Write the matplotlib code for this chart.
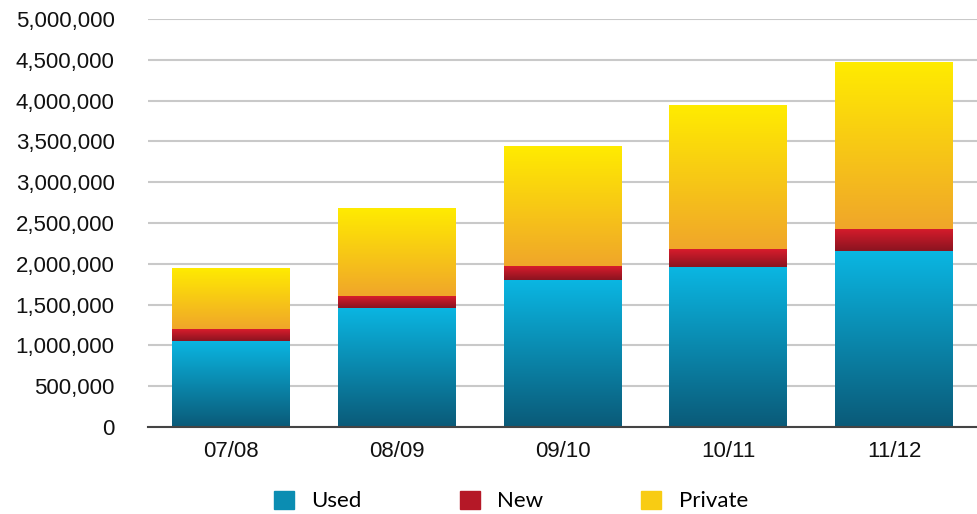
import numpy as np
import matplotlib
matplotlib.use('Agg')
import matplotlib.pyplot as plt
from matplotlib.colors import LinearSegmentedColormap
from matplotlib.patches import Patch
from matplotlib.ticker import FuncFormatter

years = ['07/08', '08/09', '09/10', '10/11', '11/12']
used = [1055000, 1460000, 1800000, 1960000, 2155000]
new = [145000, 145000, 170000, 220000, 270000]
private = [750000, 1080000, 1475000, 1765000, 2050000]

series = [
    ('Used', used, '#0bb6e2', '#0a5a78'),
    ('New', new, '#d81c2c', '#8a1420'),
    ('Private', private, '#ffec00', '#f0a62a'),
]

fig = plt.figure(figsize=(9.77, 5.14), dpi=100)
ax = fig.add_axes([148 / 977, 1 - 427 / 514, 829 / 977, 408 / 514])

x = np.arange(len(years))
bottom = np.zeros(len(years))
grad = np.linspace(0, 1, 256).reshape(-1, 1)
handles = []
for name, vals, c_top, c_bot in series:
    cmap = LinearSegmentedColormap.from_list(name, [c_bot, c_top])
    bars = ax.bar(x, vals, 0.71, bottom=bottom, color='none', edgecolor='none', zorder=2)
    for b in bars:
        x0, y0 = b.get_x(), b.get_y()
        w, h = b.get_width(), b.get_height()
        im = ax.imshow(grad, cmap=cmap, aspect='auto', origin='lower',
                       extent=[x0, x0 + w, y0, y0 + h], zorder=2)
        im.set_clip_path(b)
    bottom += np.array(vals)
    handles.append(Patch(color=cmap(0.55), label=name))

ax.set_xlim(-0.5, 4.5)
ax.set_ylim(0, 5000000)
ax.set_yticks(np.arange(0, 5000001, 500000))
ax.yaxis.set_major_formatter(FuncFormatter(lambda v, p: f'{int(v):,}'))
ax.set_xticks(x)
ax.set_xticklabels(years)
ax.grid(axis='y', color='#c9c9c9', lw=1.5, zorder=0)
for s in ['top', 'right', 'left']:
    ax.spines[s].set_visible(False)
ax.spines['bottom'].set_color('#444444')
ax.spines['bottom'].set_linewidth(1.5)
ax.spines['bottom'].set_zorder(3)
ax.tick_params(axis='both', length=0, labelsize=16, labelcolor='#111111')
ax.tick_params(axis='y', pad=24)
ax.tick_params(axis='x', pad=10)
for t in ax.get_xticklabels() + ax.get_yticklabels():
    t.set_family('Liberation Sans')

fig.legend(handles=handles, loc='center', bbox_to_anchor=(511 / 977, 1 - 501 / 514),
           ncol=3, frameon=False, prop={'family': 'Lato', 'size': 16},
           handlelength=0.9, handleheight=0.9, handletextpad=0.8, columnspacing=4.4)

fig.savefig('out.png', dpi=100)
